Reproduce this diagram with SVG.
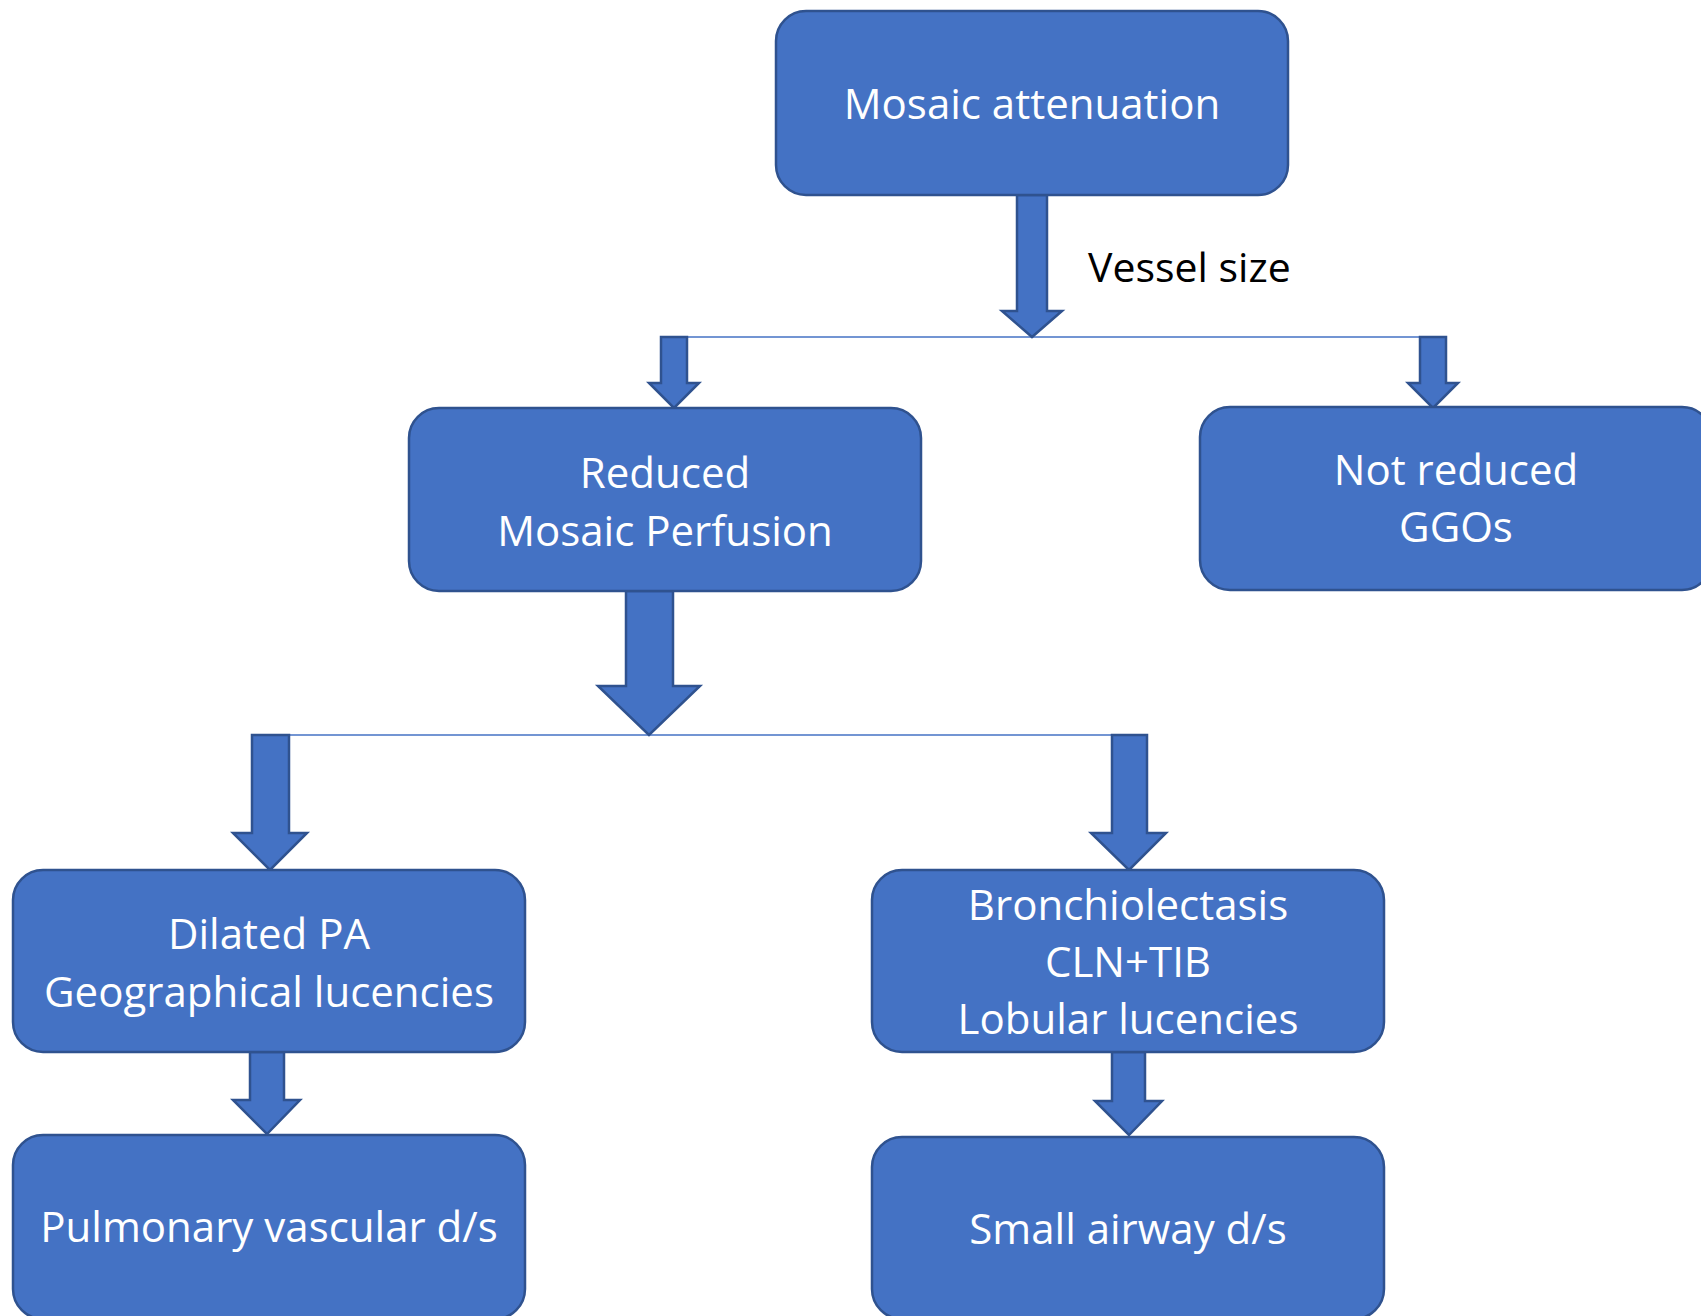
<svg xmlns="http://www.w3.org/2000/svg" width="1701" height="1316" viewBox="0 0 1701 1316">
<style>
.box{fill:#4472C4;stroke:#2F528F;stroke-width:2.5}
.arr{fill:#4472C4;stroke:#2F528F;stroke-width:2.5;stroke-linejoin:miter}
.ln{stroke:#4472C4;stroke-width:1.5;fill:none}
.t{font-family:"Open Sans","Noto Sans",sans-serif;font-size:42px;fill:#FFFFFF;text-anchor:middle}
.lbl{font-family:"Open Sans","Noto Sans",sans-serif;font-size:41px;fill:#000000}
</style>
<rect width="1701" height="1316" fill="#FFFFFF"/>
<g id="connectors">
<line class="ln" x1="674" y1="337" x2="1433" y2="337"/>
<line class="ln" x1="270" y1="735" x2="1129" y2="735"/>
<polygon class="arr" points="1017,195 1047,195 1047,311 1062,311 1032,337 1002,311 1017,311"/>
<polygon class="arr" points="661,337 687,337 687,383 699,383 674,408 649,383 661,383"/>
<polygon class="arr" points="1420,337 1446,337 1446,383 1458,383 1433,408 1408,383 1420,383"/>
<polygon class="arr" points="626,591 673,591 673,686 700,686 649,735 598,686 626,686"/>
<polygon class="arr" points="252,735 289,735 289,833 307,833 270,870 233,833 252,833"/>
<polygon class="arr" points="1112,735 1147,735 1147,833 1166,833 1129,870 1091,833 1112,833"/>
<polygon class="arr" points="250,1052 284,1052 284,1100 300,1100 267,1134 233,1100 250,1100"/>
<polygon class="arr" points="1112,1052 1145,1052 1145,1101 1162,1101 1129,1135 1095,1101 1112,1101"/>
<text class="lbl" x="1088" y="282">Vessel size</text>
</g>
<g id="node-mosaic">
<rect class="box" x="776" y="11" width="512" height="184" rx="30"/>
<text class="t" x="1032" y="119">Mosaic attenuation</text>
</g>
<g id="node-reduced">
<rect class="box" x="409" y="408" width="512" height="183" rx="30"/>
<text class="t" x="665" y="488">Reduced</text>
<text class="t" x="665" y="546">Mosaic Perfusion</text>
</g>
<g id="node-notreduced">
<rect class="box" x="1200" y="407" width="512" height="183" rx="30"/>
<text class="t" x="1456" y="485">Not reduced</text>
<text class="t" x="1456" y="542">GGOs</text>
</g>
<g id="node-dilated">
<rect class="box" x="13" y="870" width="512" height="182" rx="30"/>
<text class="t" x="269" y="949">Dilated PA</text>
<text class="t" x="269" y="1007">Geographical lucencies</text>
</g>
<g id="node-bronch">
<rect class="box" x="872" y="870" width="512" height="182" rx="30"/>
<text class="t" x="1128" y="920">Bronchiolectasis</text>
<text class="t" x="1128" y="977">CLN+TIB</text>
<text class="t" x="1128" y="1034">Lobular lucencies</text>
</g>
<g id="node-pulmonary">
<rect class="box" x="13" y="1135" width="512" height="184" rx="30"/>
<text class="t" x="269" y="1242">Pulmonary vascular d/s</text>
</g>
<g id="node-small">
<rect class="box" x="872" y="1137" width="512" height="182" rx="30"/>
<text class="t" x="1128" y="1244">Small airway d/s</text>
</g>
</svg>
